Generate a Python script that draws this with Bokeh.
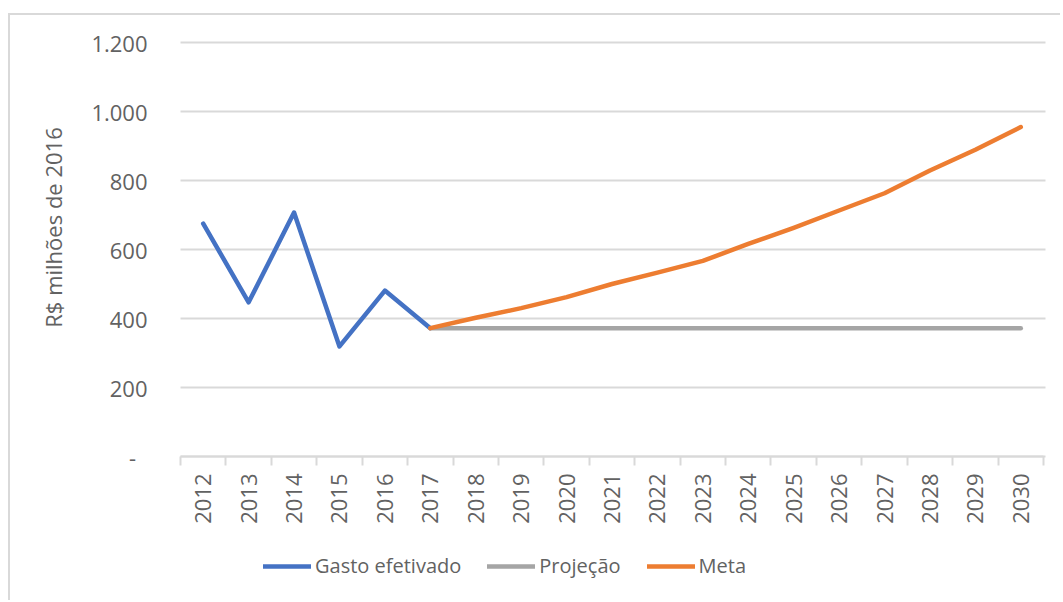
import math
from bokeh.plotting import figure
from bokeh.models import (Range1d, FixedTicker, Legend, LegendItem, Label)
from bokeh.embed import file_html
from bokeh.resources import INLINE

# ---- data ----
years_gasto = [2012, 2013, 2014, 2015, 2016, 2017]
gasto = [675, 447, 707, 319, 481, 372]

years_proj = [2017, 2018, 2019, 2020, 2021, 2022, 2023, 2024, 2025, 2026, 2027, 2028, 2029, 2030]
projecao = [372, 372, 372, 372, 372, 372, 372, 372, 372, 372, 372, 372, 372, 372]

years_meta = [2017, 2018, 2019, 2020, 2021, 2022, 2023, 2024, 2025, 2026, 2027, 2028, 2029, 2030]
meta = [372, 402, 430, 462, 500, 533, 567, 616, 663, 713, 763, 829, 889, 955]

all_years = list(range(2012, 2031))
y_ticks = [0, 200, 400, 600, 800, 1000, 1200]
y_labels = ["-\u00a0\u00a0", "200", "400", "600", "800", "1.000", "1.200"]

FONT = "Open Sans"
TXT = "#626262"
GRID = "#d9d9d9"

# ---- layout (pixels) ----
W, H = 1060, 600
PL, PR, PT, PB = 180, 1043, 42, 456          # plot area edges on the page
x0, x1 = all_years[0] - 0.5, all_years[-1] + 0.5
y0, y1 = y_ticks[0], y_ticks[-1]
sx = (PR - PL) / (x1 - x0)
sy = (PB - PT) / (y1 - y0)

p = figure(width=W, height=H, output_backend="svg", toolbar_location=None,
           x_range=Range1d(x0 - PL / sx, x1 + (W - PR) / sx),
           y_range=Range1d(y0 - (H - PB) / sy, y1 + PT / sy),
           min_border=0)
p.outline_line_color = None
p.background_fill_alpha = 0
p.border_fill_alpha = 0
p.styles = {
    "background-image": "linear-gradient(#d9d9d9, #d9d9d9), linear-gradient(#d9d9d9, #d9d9d9)",
    "background-size": "100% 2px, 2px 100%",
    "background-position": "8px 13px, 8px 13px",
    "background-repeat": "no-repeat",
}
p.xgrid.visible = False
p.ygrid.visible = False

# y axis (ticks drawn inward act as the horizontal gridlines)
ya = p.yaxis[0]
ya.fixed_location = x0
ya.bounds = (y0, y1)
ya.level = "underlay"
ya.ticker = FixedTicker(ticks=y_ticks)
ya.major_label_overrides = {t: l for t, l in zip(y_ticks, y_labels)}
ya.axis_line_color = None
ya.major_tick_line_color = GRID
ya.major_tick_line_width = 2
ya.major_tick_in = PR - PL + 2
ya.major_tick_out = 0
ya.minor_tick_line_color = None
ya.major_label_standoff = 33
ya.major_label_text_font = FONT
ya.major_label_text_font_size = "22px"
ya.major_label_text_color = TXT

# x axis
xa = p.xaxis[0]
xa.fixed_location = y0
xa.bounds = (x0, x1)
xa.level = "underlay"
xa.ticker = FixedTicker(ticks=all_years,
                        minor_ticks=[y - 0.5 for y in all_years] + [all_years[-1] + 0.5])
xa.major_label_overrides = {y: str(y) for y in all_years}
xa.axis_line_color = GRID
xa.axis_line_width = 2
xa.major_tick_line_color = None
xa.major_tick_out = 0
xa.major_tick_in = 0
xa.minor_tick_line_color = GRID
xa.minor_tick_line_width = 2
xa.minor_tick_out = 9
xa.minor_tick_in = 0
xa.major_label_orientation = math.pi / 2
xa.major_label_standoff = 8
xa.major_label_text_font = FONT
xa.major_label_text_font_size = "22px"
xa.major_label_text_color = TXT

# y axis title
p.add_layout(Label(x=52, y=H - 227, x_units="screen", y_units="screen",
                   text="R$ milhões de 2016", angle=math.pi / 2,
                   text_align="center", text_baseline="middle",
                   text_font=FONT, text_font_size="22px", text_color=TXT))

# lines
r_g = p.line(years_gasto, gasto, line_color="#4472C4", line_width=4.5,
             line_cap="round", line_join="round")
r_p = p.line(years_proj, projecao, line_color="#A5A5A5", line_width=4.5,
             line_cap="round", line_join="round")
r_m = p.line(years_meta, meta, line_color="#ED7D31", line_width=4.5,
             line_cap="round", line_join="round")

legend = Legend(items=[LegendItem(label="Gasto efetivado", renderers=[r_g]),
                       LegendItem(label="Projeção", renderers=[r_p]),
                       LegendItem(label="Meta", renderers=[r_m])],
                orientation="horizontal", location=(263, H - 579),
                glyph_width=48, glyph_height=24, label_height=24,
                label_standoff=4, spacing=26,
                padding=0, margin=0, border_line_color=None,
                background_fill_alpha=0,
                label_text_font=FONT, label_text_font_size="20px",
                label_text_color=TXT)
p.add_layout(legend)

open("out.html", "w").write(file_html(p, INLINE))
